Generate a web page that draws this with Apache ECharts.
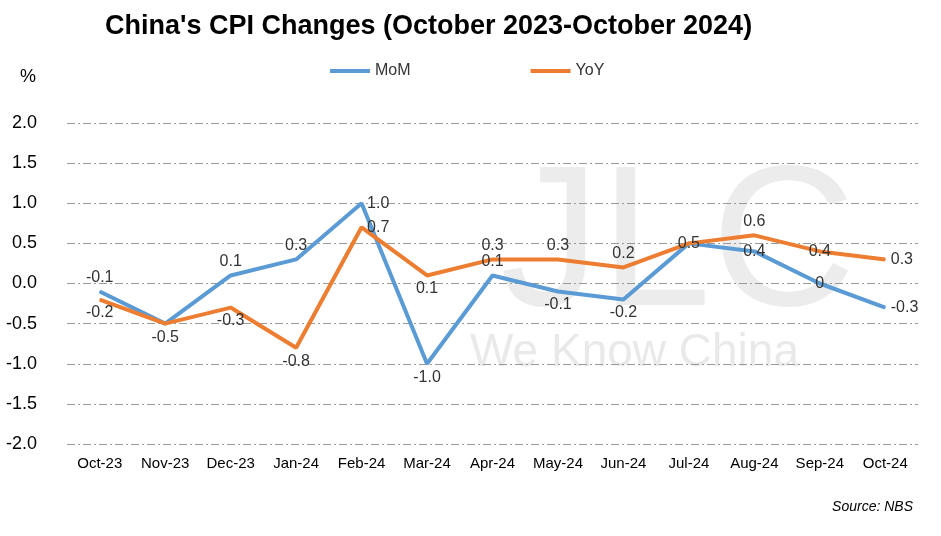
<!DOCTYPE html><html><head><meta charset="utf-8"><script src="https://cdn.jsdelivr.net/npm/echarts@6/dist/echarts.min.js"></script></head><body style="margin:0"><div id="c" style="width:941px;height:536px"></div><script>
const categories=['Oct-23','Nov-23','Dec-23','Jan-24','Feb-24','Mar-24','Apr-24','May-24','Jun-24','Jul-24','Aug-24','Sep-24','Oct-24'];
const mom=[-0.1,-0.5,0.1,0.3,1.0,-1.0,0.1,-0.1,-0.2,0.5,0.4,0,-0.3];
const yoy=[-0.2,-0.5,-0.3,-0.8,0.7,0.1,0.3,0.3,0.2,0.5,0.6,0.4,0.3];
const momPos=['top','bottom','top','top','right','bottom','top','bottom','bottom','inside','inside','inside','right'];
const yoyPos=['bottom','none','bottom','bottom','right','bottom','top','top','top','none','top','inside','right'];
const mk=(arr,pos)=>arr.map((v,i)=>({value:v,label:pos[i]==='none'?{show:false}:{position:pos[i]}}));
const lbl={show:true,fontFamily:'Liberation Sans',fontSize:16,color:'#333',formatter:p=>p.value===0?'0':p.value.toFixed(1)};
echarts.init(document.getElementById('c')).setOption({
animation:false,
title:{text:"China's CPI Changes (October 2023-October 2024)",left:100,top:8,textStyle:{fontFamily:'Liberation Sans',fontWeight:'bold',fontSize:27,color:'#000'}},
legend:{top:58,left:325,itemGap:120,itemWidth:40,icon:'rect',itemHeight:4,textStyle:{fontFamily:'Liberation Sans',fontSize:16,color:'#333'},data:['MoM','YoY']},
graphic:[{type:'text',left:20,top:68,style:{text:'%',font:'18px Liberation Sans',fill:'#000'}},
{type:'text',right:28,top:500,style:{text:'Source: NBS',font:'italic 14px Liberation Sans',fill:'#000'}},
{type:'text',left:500,top:150,z:-1,style:{text:'JLC',font:'200px Liberation Sans',fill:'rgba(200,200,200,0.35)'}},
{type:'text',left:470,top:330,z:-1,style:{text:'We Know China',font:'46px Liberation Sans',fill:'rgba(200,200,200,0.4)'}}],
grid:{left:67,right:23,top:123,bottom:92},
xAxis:{type:'category',data:categories,axisTick:{show:false},axisLine:{show:false},axisLabel:{interval:0,fontFamily:'Liberation Sans',fontSize:15,color:'#000',margin:12}},
yAxis:{type:'value',min:-2,max:2,interval:0.5,axisLabel:{fontFamily:'Liberation Sans',fontSize:18,color:'#000',margin:30,formatter:v=>v.toFixed(1)},splitLine:{lineStyle:{type:[8,3,2,3],color:'#999'}}},
series:[{name:'MoM',type:'line',data:mk(mom,momPos),symbol:'circle',symbolSize:1,showSymbol:true,lineStyle:{width:4,color:'#5b9bd5'},itemStyle:{color:'#5b9bd5'},label:lbl},
{name:'YoY',type:'line',data:mk(yoy,yoyPos),symbol:'circle',symbolSize:1,showSymbol:true,lineStyle:{width:4,color:'#ed7d31'},itemStyle:{color:'#ed7d31'},label:lbl}]
});
</script></body></html>
